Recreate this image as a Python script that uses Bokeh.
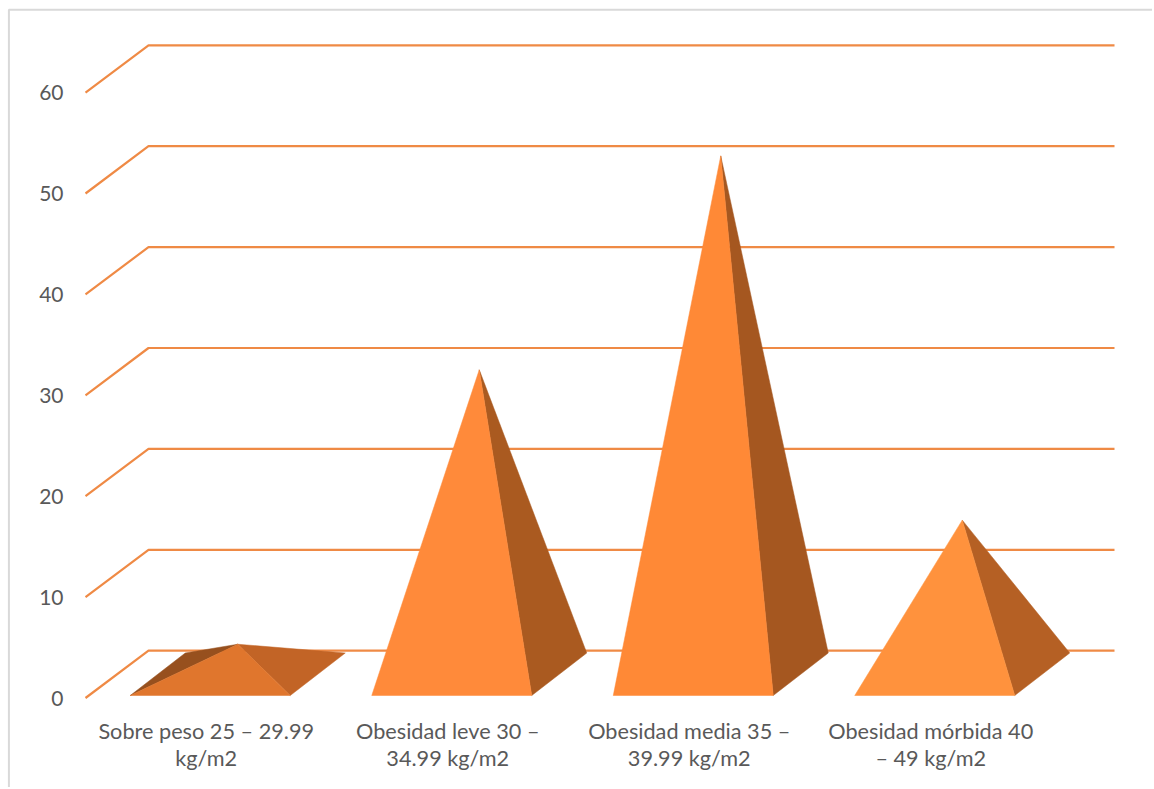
from bokeh.plotting import figure
from bokeh.models import Range1d, LinearAxis, FixedTicker
from bokeh.embed import file_html
from bokeh.resources import INLINE

# ---- data ----
categories = ["Sobre peso 25 – 29.99\nkg/m2", "Obesidad leve 30 –\n34.99 kg/m2",
              "Obesidad media 35 –\n39.99 kg/m2", "Obesidad mórbida 40\n– 49 kg/m2"]
values = [2.9, 30.1, 51.3, 15.2]
y_ticks = [0, 10, 20, 30, 40, 50, 60]

# ---- style ----
front_colors = ["#E0762D", "#FF8A3A", "#FF8936", "#FF923D"]
right_colors = ["#C26426", "#AA5A20", "#A55720", "#B56024"]
left_colors = ["#97501E", None, None, None]
GRID = "#ED7D31"
TEXT = "#595959"
FRAME = "#D9D9D9"
FONT = "Lato"

# ---- layout (page pixels) ----
W, H = 1152, 787
PX_X0, PX_CAT = 85.0, 241.5     # page x of category 0, pixels per category
PX_Y0, PX_VAL = 697.5, 10.09    # page y of value 0, pixels per value unit
sx = lambda px: px / PX_CAT
sy = lambda px: px / PX_VAL
x_start = sx(0 - PX_X0); x_end = sx(W - PX_X0)
y_top = sy(PX_Y0 - 0); y_bot = sy(PX_Y0 - H)

DEPTH_X, DEPTH_Y = sx(63), sy(47.3)      # wall offset
HALF_W = sx(80)                          # half base width
BASE_F_X, BASE_F_Y = sx(4), sy(2.5)      # front base edge offset
BASE_B_X, BASE_B_Y = sx(59), sy(45)      # back base edge offset
APEX_X, APEX_Y = sx(31.5), sy(24.5)      # base centre offset

p = figure(width=W, height=H, output_backend="svg", toolbar_location=None,
           x_range=Range1d(x_start, x_end), y_range=Range1d(y_bot, y_top),
           x_axis_location=None, y_axis_location=None, min_border=0,
           outline_line_color=None, background_fill_color="white")
p.grid.visible = False

# chart-area frame (left and top edges)
fx = x_start + sx(8.4); fy = y_top - sy(9.2)
p.line([fx, fx, x_end], [y_bot, fy, fy], line_color=FRAME, line_width=2)

# gridlines: floor/side-wall segment then back wall
grid_xs = [[0, DEPTH_X, 4 + DEPTH_X] for _ in y_ticks]
grid_ys = [[v, v + DEPTH_Y, v + DEPTH_Y] for v in y_ticks]
p.multi_line(grid_xs, grid_ys, line_color=GRID, line_width=2.2, line_alpha=0.9)

# pyramids
fl, fr, bl, br, apex = [], [], [], [], []
for i, v in enumerate(values):
    c = i + 0.5
    yf, yb = BASE_F_Y, BASE_B_Y
    xl, xr = c - HALF_W + BASE_F_X, c + HALF_W + BASE_F_X
    xbl, xbr = c - HALF_W + BASE_B_X, c + HALF_W + BASE_B_X
    fl.append((xl, yf)); fr.append((xr, yf)); bl.append((xbl, yb)); br.append((xbr, yb))
    apex.append((c + APEX_X, v + APEX_Y))

def faces(a, b):
    return ([[a[i][0], b[i][0], apex[i][0]] for i in range(len(values))],
            [[a[i][1], b[i][1], apex[i][1]] for i in range(len(values))])

# left face only shows where the apex falls behind it
lx, ly = faces(fl, bl)
keep = [i for i, col in enumerate(left_colors) if col]
p.patches([lx[i] for i in keep], [ly[i] for i in keep],
          fill_color=[left_colors[i] for i in keep], line_color=[left_colors[i] for i in keep], line_width=0.5)
rx, ry = faces(fr, br)
p.patches(rx, ry, fill_color=right_colors, line_color=right_colors, line_width=0.5)
fx_, fy_ = faces(fl, fr)
p.patches(fx_, fy_, fill_color=front_colors, line_color=front_colors, line_width=0.5)

# axes in the front plane
ya = LinearAxis(ticker=FixedTicker(ticks=y_ticks), fixed_location=0)
ya.axis_line_color = None
ya.major_tick_line_color = None
ya.minor_tick_line_color = None
ya.major_label_standoff = 16
ya.major_label_text_color = TEXT
ya.major_label_text_font = FONT
ya.major_label_text_font_size = "21px"
p.add_layout(ya, "left")

cat_pos = [i + 0.5 for i in range(len(categories))]
xa = LinearAxis(ticker=FixedTicker(ticks=cat_pos), fixed_location=0,
                major_label_overrides=dict(zip(cat_pos, categories)))
xa.axis_line_color = None
xa.major_tick_line_color = None
xa.minor_tick_line_color = None
xa.major_label_standoff = 14
xa.major_label_text_color = TEXT
xa.major_label_text_font = FONT
xa.major_label_text_font_size = "21.7px"
xa.major_label_text_line_height = 1.03
p.add_layout(xa, "below")

open("out.html", "w").write(file_html(p, INLINE))
